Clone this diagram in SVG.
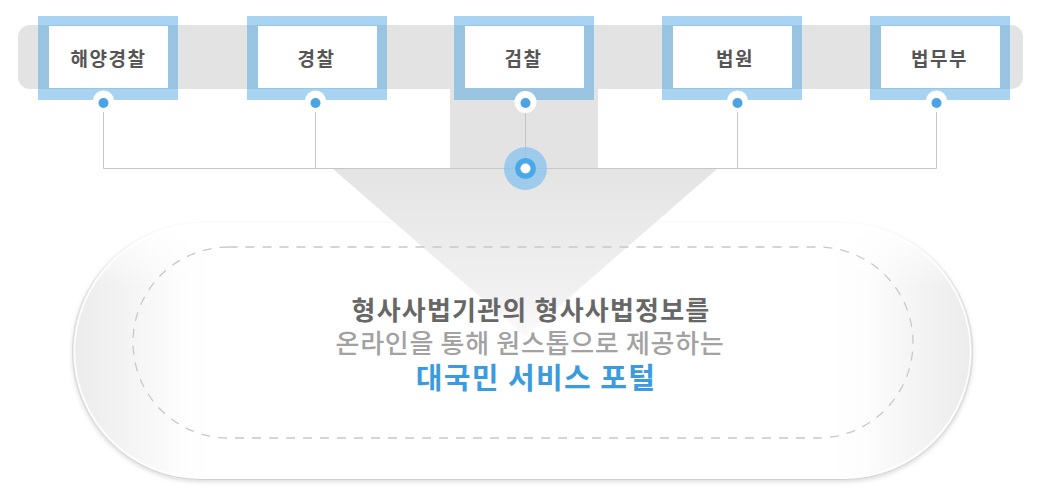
<svg xmlns="http://www.w3.org/2000/svg" width="1054" height="500" viewBox="0 0 1054 500">
  <defs>
    <style>
      .frame { fill: #3fa0e0; fill-opacity: 0.45; }
      .inner { fill: #ffffff; }
      .label { font-family: "Noto Sans CJK KR", "Noto Sans", sans-serif; font-size: 19px; font-weight: 700; fill: #555555; text-anchor: middle; letter-spacing: 1.5px; }
      .notch { fill: #ffffff; }
      .dot { fill: #4aa3e3; }
      .conn { stroke: #c6c6c6; stroke-width: 1; fill: none; }
      .t { font-family: "Noto Sans CJK KR", "Noto Sans", sans-serif; text-anchor: middle; }
    </style>
    <linearGradient id="pillH" x1="0" y1="0" x2="1" y2="0">
      <stop offset="0" stop-color="#ebebeb"/>
      <stop offset="0.07" stop-color="#f5f5f5"/>
      <stop offset="0.12" stop-color="#fdfdfd"/>
      <stop offset="0.16" stop-color="#ffffff"/>
      <stop offset="0.84" stop-color="#ffffff"/>
      <stop offset="0.88" stop-color="#fdfdfd"/>
      <stop offset="0.93" stop-color="#f5f5f5"/>
      <stop offset="1" stop-color="#ebebeb"/>
    </linearGradient>
    <linearGradient id="pillV" x1="0" y1="0" x2="0" y2="1">
      <stop offset="0" stop-color="#ffffff" stop-opacity="1"/>
      <stop offset="0.25" stop-color="#ffffff" stop-opacity="0"/>
      <stop offset="1" stop-color="#ffffff" stop-opacity="0"/>
    </linearGradient>
    <linearGradient id="pillStroke" x1="0" y1="0" x2="0" y2="1">
      <stop offset="0" stop-color="#d6d6d6" stop-opacity="0"/>
      <stop offset="0.3" stop-color="#d6d6d6" stop-opacity="0.7"/>
      <stop offset="1" stop-color="#d0d0d0" stop-opacity="1"/>
    </linearGradient>
    <linearGradient id="funnel" gradientUnits="userSpaceOnUse" x1="0" y1="169" x2="0" y2="336">
      <stop offset="0" stop-color="#e4e4e4"/>
      <stop offset="0.75" stop-color="#f1f1f1"/>
      <stop offset="1" stop-color="#fafafa"/>
    </linearGradient>
    <filter id="shadow" x="-5%" y="-10%" width="110%" height="125%">
      <feGaussianBlur stdDeviation="2"/>
    </filter>
  </defs>

  <!-- background band -->
  <rect x="18" y="25" width="1005" height="64" rx="12" fill="#e3e3e3"/>
  <rect x="450" y="89" width="148" height="80" fill="#e3e3e3"/>

  <!-- portal pill -->
  <g id="portal">
    <rect x="72" y="225" width="901" height="257" rx="128.5" fill="#cfcfcf" filter="url(#shadow)" opacity="0.7"/>
    <rect x="72" y="223" width="901" height="257" rx="128.5" fill="url(#pillH)"/>
    <rect x="72" y="223" width="901" height="257" rx="128.5" fill="url(#pillV)"/>
    <rect x="72.5" y="223.5" width="900" height="256" rx="128" fill="none" stroke="url(#pillStroke)" stroke-width="1"/>
    <rect x="74.5" y="225.5" width="896" height="252" rx="126" fill="none" stroke="#ffffff" stroke-width="1.5" stroke-opacity="0.9"/>
    <polygon points="333,169 717,169 525,336" fill="url(#funnel)"/>
    <rect x="133" y="247" width="780" height="191" rx="95.5" fill="none" stroke="#c8c8c8" stroke-width="1.3" stroke-dasharray="9 8"/>
    <text class="t" x="531" y="320" font-size="26" font-weight="700" fill="#676767" letter-spacing="1.2">형사사법기관의 형사사법정보를</text>
    <text class="t" x="530" y="353" font-size="26" font-weight="500" fill="#a2a2a2" letter-spacing="0.7">온라인을 통해 원스톱으로 제공하는</text>
    <text class="t" x="536" y="389" font-size="29" font-weight="700" fill="#3a9be0" letter-spacing="1.4">대국민 서비스 포털</text>
  </g>

  <!-- connectors -->
  <g id="connectors">
    <path class="conn" d="M103.5 112 V168.5 H936.5 V112"/>
    <path class="conn" d="M315.5 112 V168.5"/>
    <path class="conn" d="M525.5 112 V168.5" stroke="#b4b4b4"/>
    <path class="conn" d="M737.5 112 V168.5"/>
  </g>

  <g id="node-haeyang">
    <rect class="frame" x="38" y="16" width="140" height="84"/>
    <rect class="inner" x="49" y="26" width="119" height="62"/>
    <text class="label" x="108.5" y="65.5">해양경찰</text>
    <circle class="notch" cx="103.5" cy="101" r="10.5"/>
    <circle class="dot" cx="103.5" cy="103" r="5"/>
  </g>
  <g id="node-police">
    <rect class="frame" x="247" y="16" width="140" height="84"/>
    <rect class="inner" x="258" y="26" width="119" height="62"/>
    <text class="label" x="316.5" y="65.5">경찰</text>
    <circle class="notch" cx="315.5" cy="101" r="10.5"/>
    <circle class="dot" cx="315.5" cy="103" r="5"/>
  </g>
  <g id="node-prosecution">
    <rect class="frame" x="454" y="16" width="140" height="84"/>
    <rect class="inner" x="465" y="26" width="119" height="62"/>
    <text class="label" x="523.5" y="65.5">검찰</text>
    <circle class="notch" cx="525.5" cy="102" r="11"/>
    <circle class="dot" cx="525.5" cy="103" r="5"/>
  </g>
  <g id="node-court">
    <rect class="frame" x="662" y="16" width="140" height="84"/>
    <rect class="inner" x="673" y="26" width="119" height="62"/>
    <text class="label" x="735" y="65.5">법원</text>
    <circle class="notch" cx="737.5" cy="101" r="10.5"/>
    <circle class="dot" cx="737.5" cy="103" r="5"/>
  </g>
  <g id="node-justice">
    <rect class="frame" x="870" y="16" width="140" height="84"/>
    <rect class="inner" x="881" y="26" width="119" height="62"/>
    <text class="label" x="939.5" y="65.5">법무부</text>
    <circle class="notch" cx="936.5" cy="101" r="10.5"/>
    <circle class="dot" cx="936.5" cy="103" r="5"/>
  </g>

  <g id="hub">
    <circle cx="525.5" cy="168.5" r="21.5" fill="#8cc4ec" fill-opacity="0.8"/>
    <circle cx="525.5" cy="168.5" r="10.5" fill="#4aa8e8"/>
    <circle cx="525.5" cy="168.5" r="5" fill="#ffffff"/>
  </g>
</svg>
